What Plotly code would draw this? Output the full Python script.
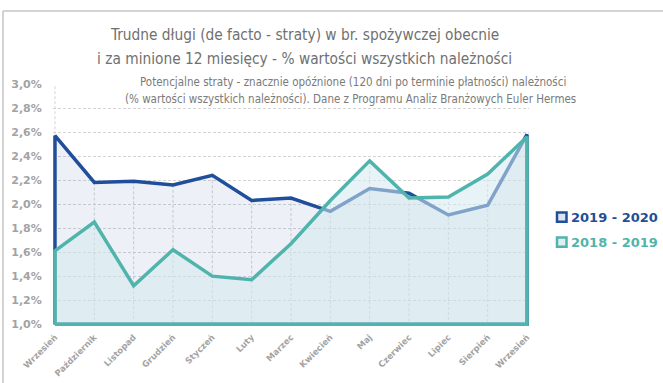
import plotly.graph_objects as go

# ---------------- data ----------------
months = ["Wrzesień", "Październik", "Listopad", "Grudzień", "Styczeń", "Luty",
          "Marzec", "Kwiecień", "Maj", "Czerwiec", "Lipiec", "Sierpień", "Wrzesień"]
s_2019_2020 = [2.57, 2.18, 2.19, 2.16, 2.24, 2.03, 2.05, 1.94, 2.13, 2.09, 1.91, 1.99, 2.58]
s_2018_2019 = [1.61, 1.85, 1.32, 1.62, 1.40, 1.37, 1.67, 2.03, 2.36, 2.05, 2.06, 2.25, 2.56]
series_names = ["2019 - 2020", "2018 - 2019"]
y_tick_vals = [1.0, 1.2, 1.4, 1.6, 1.8, 2.0, 2.2, 2.4, 2.6, 2.8, 3.0]
y_tick_text = ["1,0%", "1,2%", "1,4%", "1,6%", "1,8%", "2,0%", "2,2%", "2,4%", "2,6%", "2,8%", "3,0%"]
title_lines = ["Trudne długi (de facto - straty) w br. spożywczej obecnie",
               "i za minione 12 miesięcy - % wartości wszystkich należności"]
subtitle_lines = ["Potencjalne straty - znacznie opóźnione (120 dni po terminie płatności) należności",
                  "(% wartości wszystkich należności). Dane z Programu Analiz Branżowych Euler Hermes"]

# ---------------- styling ----------------
W, H = 663, 383
Y_MIN, Y_MAX = 1.0, 3.0
BLUE = "#1F4E9A"
TEAL = "#50B4AC"
GRAY_TXT = "#A3A3A3"
GRID = "#D4D4D4"
NARROW = "DejaVu Sans Condensed, Liberation Sans Narrow, DejaVu Sans"

x_idx = list(range(len(months)))
X_PAD = 0.05
Y_PAD = 0.015

# plot area in pixels
PL, PR = 53, 529
PT = 84
PB = PT + 120 * (Y_MAX - (Y_MIN - Y_PAD))


def px_x(p):
    return (p - PL) / (PR - PL)


def px_y(p):
    return (PB - p) / (PB - PT)


def closed(vals):
    xs = [x_idx[0]] + x_idx + [x_idx[-1], x_idx[0]]
    ys = [Y_MIN] + vals + [Y_MIN, Y_MIN]
    return xs, ys


fig = go.Figure()

# drop lines (from the higher series down to the axis)
drop_x, drop_y = [], []
for i, (a, b) in enumerate(zip(s_2019_2020, s_2018_2019)):
    drop_x += [x_idx[i], x_idx[i], None]
    drop_y += [max(a, b), Y_MIN, None]
fig.add_trace(go.Scatter(x=drop_x, y=drop_y, mode="lines",
                         line=dict(color=GRID, width=1, dash="3px,2px"),
                         showlegend=False, hoverinfo="skip"))

xb, yb = closed(s_2019_2020)
fig.add_trace(go.Scatter(x=xb, y=yb, mode="lines", fill="toself",
                         fillcolor="rgba(31,78,154,0.08)",
                         line=dict(color=BLUE, width=3.5), name=series_names[0],
                         showlegend=False, hoverinfo="skip"))
xt, yt = closed(s_2018_2019)
fig.add_trace(go.Scatter(x=xt, y=yt, mode="lines", fill="toself",
                         fillcolor="rgba(212,234,240,0.55)",
                         line=dict(color=TEAL, width=3.5), name=series_names[1],
                         showlegend=False, hoverinfo="skip"))

shapes = []
annotations = []

# left dashed border of plot area
shapes.append(dict(type="line", xref="x", yref="y", x0=x_idx[0], x1=x_idx[0],
                   y0=Y_MIN, y1=Y_MAX, layer="below",
                   line=dict(color=GRID, width=1, dash="3px,2px")))

# outer frame
shapes.append(dict(type="line", xref="paper", yref="paper",
                   x0=px_x(3), x1=px_x(663), y0=px_y(11), y1=px_y(11),
                   line=dict(color="#C4C4C4", width=1.5)))
shapes.append(dict(type="line", xref="paper", yref="paper",
                   x0=px_x(3), x1=px_x(3), y0=px_y(11), y1=px_y(383),
                   line=dict(color="#C4C4C4", width=1.5)))

# legend
leg_colors = [(BLUE, "#DCE4F0"), (TEAL, "#DDF0EE")]
for i, (name, (c, f)) in enumerate(zip(series_names, leg_colors)):
    cy = 217 + i * 25
    shapes.append(dict(type="rect", xref="paper", yref="paper",
                       x0=px_x(557), x1=px_x(566.5), y0=px_y(cy - 4.7), y1=px_y(cy + 4.7),
                       line=dict(color=c, width=2.5), fillcolor=f))
    annotations.append(dict(xref="paper", yref="paper", x=px_x(569), y=px_y(cy),
                            xanchor="left", yanchor="middle", showarrow=False,
                            text="<b>" + name + "</b>",
                            font=dict(family="DejaVu Sans", size=13, color=c)))

# title (two lines)
for line, cy in zip(title_lines, [35, 59]):
    annotations.append(dict(xref="paper", yref="paper", x=px_x(304), y=px_y(cy),
                            xanchor="center", yanchor="middle", showarrow=False,
                            text=line,
                            font=dict(family=NARROW, size=15.3, color="#707070")))
# subtitle (two lines)
for line, cx, cy in zip(subtitle_lines, [352.5, 350], [82, 98.5]):
    annotations.append(dict(xref="paper", yref="paper", x=px_x(cx), y=px_y(cy),
                            xanchor="center", yanchor="middle", showarrow=False,
                            text=line, bgcolor="white", borderpad=0,
                            font=dict(family=NARROW, size=11.5, color="#7A7A7A")))

fig.update_layout(
    width=W, height=H,
    margin=dict(l=PL, r=W - PR, t=PT, b=H - PB, pad=0, autoexpand=False),
    paper_bgcolor="white", plot_bgcolor="white",
    showlegend=False,
    shapes=shapes, annotations=annotations,
    xaxis=dict(range=[x_idx[0] - X_PAD, x_idx[-1] + X_PAD],
               tickvals=x_idx, ticktext=months, tickangle=-45,
               showgrid=False, zeroline=False, showline=False, automargin=False,
               ticks="outside", ticklen=2, tickcolor="rgba(0,0,0,0)",
               tickfont=dict(family="DejaVu Sans", size=8.5, color=GRAY_TXT, weight="bold")),
    yaxis=dict(range=[Y_MIN - Y_PAD, Y_MAX],
               tickvals=y_tick_vals, ticktext=y_tick_text, automargin=False,
               showgrid=True, gridcolor=GRID, griddash="3px,2px", gridwidth=1,
               zeroline=False, showline=False,
               ticks="outside", ticklen=8, tickcolor="rgba(0,0,0,0)",
               tickfont=dict(family="DejaVu Sans", size=11, color=GRAY_TXT, weight="bold")),
)

fig.write_html("out.html")
